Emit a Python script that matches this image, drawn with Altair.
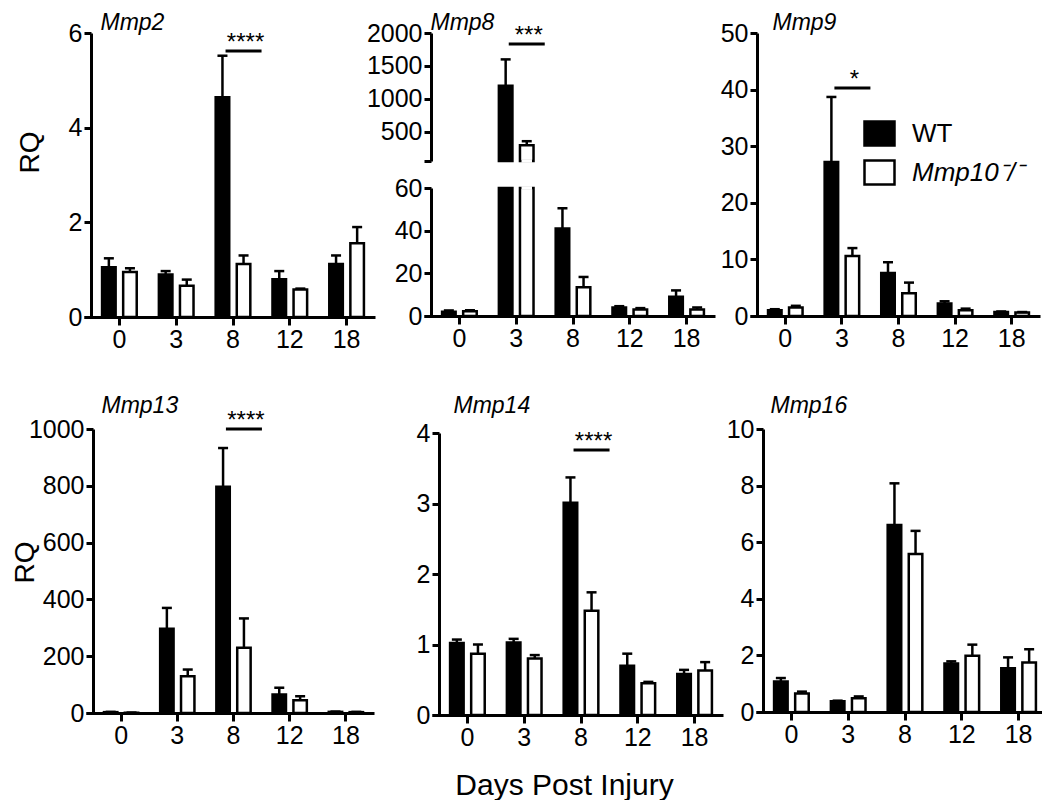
import altair as alt
import pandas as pd

FONT = "Liberation Sans"

days = ["0", "3", "8", "12", "18"]
groups = ["WT", "Mmp10⁻/⁻"]

# mean values and mean+SEM (top of error bar)
mmp2_wt = [1.05, 0.90, 4.64, 0.80, 1.12]
mmp2_wt_top = [1.24, 0.97, 5.52, 0.97, 1.30]
mmp2_ko = [0.95, 0.66, 1.12, 0.58, 1.56]
mmp2_ko_top = [1.03, 0.79, 1.30, 0.60, 1.90]

mmp8_wt = [2.0, 1200, 41, 4.0, 9.0]
mmp8_wt_top = [2.6, 1600, 50.5, 4.6, 12.0]
mmp8_ko = [2.2, 300, 13.5, 3.0, 3.0]
mmp8_ko_top = [2.7, 360, 18.3, 3.7, 4.0]

mmp9_wt = [1.0, 27.2, 7.6, 2.2, 0.7]
mmp9_wt_top = [1.2, 38.7, 9.5, 2.6, 0.8]
mmp9_ko = [1.5, 10.6, 4.0, 1.0, 0.6]
mmp9_ko_top = [1.8, 12.0, 5.9, 1.3, 0.7]

mmp13_wt = [3, 297, 797, 65, 4]
mmp13_wt_top = [4, 370, 933, 89, 5]
mmp13_ko = [1, 129, 230, 45, 3]
mmp13_ko_top = [1.5, 153, 333, 59, 4]

mmp14_wt = [1.02, 1.03, 3.01, 0.70, 0.58]
mmp14_wt_top = [1.07, 1.08, 3.37, 0.87, 0.64]
mmp14_ko = [0.87, 0.80, 1.48, 0.45, 0.63]
mmp14_ko_top = [1.00, 0.85, 1.74, 0.47, 0.75]

mmp16_wt = [1.08, 0.38, 6.61, 1.71, 1.55]
mmp16_wt_top = [1.20, 0.40, 8.08, 1.79, 1.93]
mmp16_ko = [0.65, 0.49, 5.58, 1.99, 1.75]
mmp16_ko_top = [0.72, 0.55, 6.40, 2.38, 2.22]

# significance annotations: (day, level, label)
sig_mmp2 = ("8", 5.62, "****")
sig_mmp8 = ("3", 1833, "***")
sig_mmp9 = ("3", 40.3, "*")
sig_mmp13 = ("8", 1000, "****")
sig_mmp14 = ("8", 3.76, "****")

BREAK = 60  # Mmp8 broken axis: lower segment 0-60, upper segment 60-2000

# ---------------------------------------------------------------- layout
M = 8            # page margin (chart drawn from page pixel 8)
W, H = 1034, 792
EXT = 7          # x-axis line sticks out left of the y axis


def frame(wt, wt_top, ko, ko_top):
    rows = []
    for i, d in enumerate(days):
        rows.append({"day": d, "group": groups[0], "value": wt[i], "top": wt_top[i]})
        rows.append({"day": d, "group": groups[1], "value": ko[i], "top": ko_top[i]})
    return pd.DataFrame(rows)


def xscale(axis_x, x_end):
    step = (x_end - axis_x) / 5
    span = x_end - (axis_x - EXT)
    po = (span / step - 5 + 0.39) / 2
    align = (EXT + 0.195 * step) / (EXT + 0.39 * step)
    return alt.Scale(domain=days, range=[axis_x - EXT - M, x_end - M],
                     paddingInner=0.39, paddingOuter=po, align=align)


def xaxis(axis_y, title, tx, ty):
    return alt.Axis(orient="bottom", offset=axis_y - M - H, labelAngle=0, tickSize=8,
                    labelPadding=2, title=title, titleX=tx - M, titleY=ty - axis_y,
                    titleAlign="left", titleBaseline="alphabetic", titleAngle=0,
                    titleFontStyle="italic", titleFontSize=23, titleFontWeight=400)


def yaxis(axis_x, values, title=None, tx=0, ty=0, angle=270, size=28, label_expr=None):
    kw = dict(orient="left", offset=-(axis_x - M), values=values, format="d", grid=False,
              tickSize=7, labelPadding=2)
    if label_expr:
        kw["labelExpr"] = label_expr
    if title:
        kw.update(title=title, titleX=tx - axis_x, titleY=ty - M, titleAngle=angle,
                  titleAlign="center", titleBaseline="alphabetic", titleFontSize=size,
                  titleFontWeight=400)
    else:
        kw["title"] = None
    return alt.Axis(**kw)


def yscale(domain, y_zero, y_top, zero=True):
    return alt.Scale(domain=domain, range=[y_zero - M, y_top - M], nice=False, zero=zero)


def marks(df, xenc, xoff, ysc, yax, legend=None, mode="full", sig=None):
    base = alt.Chart(df).encode(x=xenc, xOffset=xoff)

    def Y(f):
        return alt.Y(f, scale=ysc, axis=yax)

    fill = alt.Fill("group:N", scale=alt.Scale(domain=groups, range=["black", "white"]),
                    legend=legend)
    layers = []
    if mode == "full":
        layers.append(base.mark_bar(stroke="black", strokeWidth=2.5).encode(y=Y("value:Q"), fill=fill))
        src = base
    elif mode == "top":
        b = base.transform_filter(f"datum.value > {BREAK}").transform_calculate(lo=f"{BREAK}")
        layers.append(b.mark_bar(stroke="black", strokeWidth=2.5).encode(
            y=Y("value:Q"), y2="lo:Q", fill=fill))
        layers.append(b.transform_filter(f"datum.group != '{groups[0]}'").mark_tick(
            color="white", opacity=1, thickness=3.5, size=10.5).encode(y=Y("lo:Q")))
        src = base.transform_filter(f"datum.top > {BREAK}")
    else:  # bottom segment
        b = base.transform_calculate(v=f"min(datum.value, {BREAK})", lo=f"{BREAK}")
        layers.append(b.mark_bar(stroke="black", strokeWidth=2.5).encode(y=Y("v:Q"), fill=fill))
        layers.append(b.transform_filter(
            f"datum.value > {BREAK} && datum.group != '{groups[0]}'").mark_tick(
            color="white", opacity=1, thickness=3.5, size=10.5).encode(y=Y("lo:Q")))
        src = base.transform_filter(f"datum.top <= {BREAK}")
    layers.append(src.mark_rule(color="black", strokeWidth=2.5).encode(y=Y("value:Q"), y2="top:Q"))
    layers.append(src.mark_tick(color="black", opacity=1, thickness=2.5, size=10).encode(y=Y("top:Q")))
    if sig is not None:
        sdf = pd.DataFrame([{"day": sig[0], "group": groups[1], "level": sig[1], "label": sig[2]}])
        sb = alt.Chart(sdf).encode(x=xenc, xOffset=xoff, y=Y("level:Q"))
        layers.append(sb.mark_tick(color="black", opacity=1, thickness=3, size=36))
        layers.append(sb.mark_text(font=FONT, fontSize=24, baseline="alphabetic", align="center",
                                   dx=2, dy=-1, color="black").encode(text="label:N"))
    return alt.layer(*layers)


def encs(axis_x, x_end, xax):
    xenc = alt.X("day:N", scale=xscale(axis_x, x_end), axis=xax)
    xoff = alt.XOffset("group:N", scale=alt.Scale(domain=groups, paddingInner=0.357, paddingOuter=0))
    return xenc, xoff


legend_spec = alt.Legend(
    title=None, orient="none", legendX=855, legendY=109,
    symbolType="M-1,-0.8H1V0.8H-1Z", symbolSize=900,
    symbolStrokeColor="black", symbolStrokeWidth=2.5,
    labelFontSize=26, labelFont=FONT, labelColor="black",
    labelFontStyle=alt.ExprRef(expr="datum.label == 'WT' ? 'normal' : 'italic'"),
    rowPadding=4, labelOffset=16, padding=0,
)

TOP_BASE = 29   # baseline of the upper-row panel names (page px)
BOT_BASE = 412  # baseline of the lower-row panel names

# Mmp2
x, xo = encs(91, 375, xaxis(317, "Mmp2", 100, TOP_BASE))
p2 = marks(frame(mmp2_wt, mmp2_wt_top, mmp2_ko, mmp2_ko_top), x, xo,
           yscale([0, 6], 317, 33), yaxis(91, [0, 2, 4, 6], "RQ", 38, 152), sig=sig_mmp2)

# Mmp8 (broken axis)
df8 = frame(mmp8_wt, mmp8_wt_top, mmp8_ko, mmp8_ko_top)
x, xo = encs(431, 715, xaxis(316, "Mmp8", 430, TOP_BASE))
p8_top = marks(df8, x, xo, yscale([BREAK, 2000], 161, 33, zero=False),
               yaxis(431, [BREAK, 500, 1000, 1500, 2000],
                     label_expr=f"datum.value == {BREAK} ? '' : datum.label"),
               mode="top", sig=sig_mmp8)
p8_bot = marks(df8, x, xo, yscale([0, BREAK], 316, 188), yaxis(431, [0, 20, 40, 60]), mode="bottom")
p8 = alt.layer(p8_top, p8_bot).resolve_scale(y="independent").resolve_axis(y="independent")

# Mmp9
x, xo = encs(757, 1040, xaxis(316, "Mmp9", 772, TOP_BASE))
p9 = marks(frame(mmp9_wt, mmp9_wt_top, mmp9_ko, mmp9_ko_top), x, xo,
           yscale([0, 50], 316, 33), yaxis(757, [0, 10, 20, 30, 40, 50]),
           legend=legend_spec, sig=sig_mmp9)

# Mmp13
x, xo = encs(93, 374, xaxis(713, "Mmp13", 101, BOT_BASE))
p13 = marks(frame(mmp13_wt, mmp13_wt_top, mmp13_ko, mmp13_ko_top), x, xo,
            yscale([0, 1000], 713, 429), yaxis(93, [0, 200, 400, 600, 800, 1000], "RQ", 33, 562),
            sig=sig_mmp13)

# Mmp14
x, xo = encs(439, 723, xaxis(715, "Mmp14", 453, BOT_BASE))
p14 = marks(frame(mmp14_wt, mmp14_wt_top, mmp14_ko, mmp14_ko_top), x, xo,
            yscale([0, 4], 715, 433),
            yaxis(439, [0, 1, 2, 3, 4], "Days Post Injury", 564, 794, angle=0, size=30),
            sig=sig_mmp14)

# Mmp16
x, xo = encs(763, 1047, xaxis(712, "Mmp16", 770, BOT_BASE))
p16 = marks(frame(mmp16_wt, mmp16_wt_top, mmp16_ko, mmp16_ko_top), x, xo,
            yscale([0, 10], 712, 429), yaxis(763, [0, 2, 4, 6, 8, 10]))

chart = alt.layer(p2, p8, p9, p13, p14, p16).resolve_scale(
    x="independent", y="independent", xOffset="independent", fill="independent"
).resolve_axis(x="independent", y="independent").properties(
    width=W, height=H, padding=0, autosize=alt.AutoSizeParams(type="none")
).configure_view(stroke=None).configure_axis(
    labelFont=FONT, titleFont=FONT, labelFontSize=25, labelColor="black", titleColor="black",
    domainColor="black", domainWidth=3, tickColor="black", tickWidth=3,
)

chart.save("out.html", embed_options={"renderer": "svg", "actions": False})
